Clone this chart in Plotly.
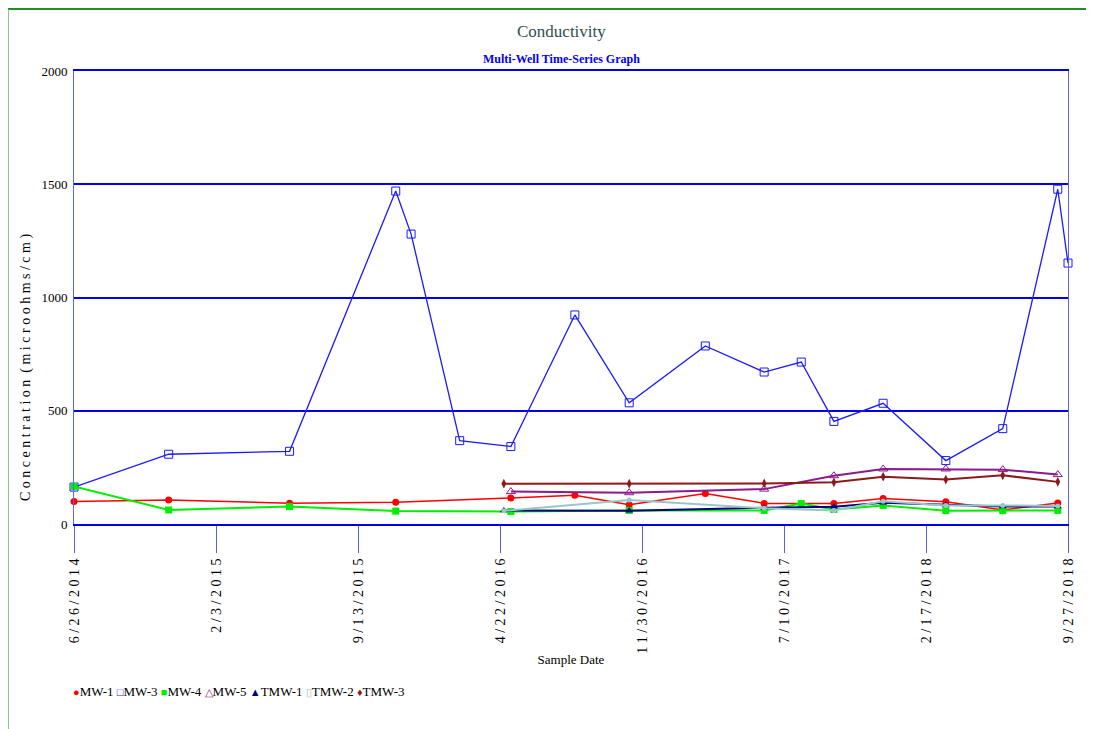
import plotly.graph_objects as go

# ---------------- data ----------------
mw1_dates = ["2014-06-26", "2014-11-21", "2015-05-29", "2015-11-11", "2016-05-09", "2016-08-17",
             "2016-11-10", "2017-03-09", "2017-06-09", "2017-09-26", "2017-12-12", "2018-03-20",
             "2018-06-17", "2018-09-11"]
mw1_vals = [99, 106, 92, 96, 115, 127, 85, 135, 91, 91, 113, 98, 62, 93]

mw3_dates = ["2014-06-26", "2014-11-21", "2015-05-29", "2015-11-11", "2015-12-05", "2016-02-19",
             "2016-05-09", "2016-08-17", "2016-11-10", "2017-03-09", "2017-06-09", "2017-08-06",
             "2017-09-26", "2017-12-12", "2018-03-20", "2018-06-17", "2018-09-11", "2018-09-27"]
mw3_vals = [163, 308, 321, 1470, 1280, 368, 342, 923, 535, 786, 671, 715, 453, 533, 280, 421, 1478, 1152]

mw4_dates = ["2014-06-26", "2014-11-21", "2015-05-29", "2015-11-11", "2016-05-09", "2016-11-10",
             "2017-06-09", "2017-08-06", "2017-09-26", "2017-12-12", "2018-03-20", "2018-06-17",
             "2018-09-11"]
mw4_vals = [166, 62, 77, 57, 55, 60, 60, 90, 64, 82, 59, 59, 60]

mw5_dates = ["2016-05-09", "2016-11-10", "2017-06-09", "2017-09-26", "2017-12-12", "2018-03-20",
             "2018-06-17", "2018-09-11"]
mw5_vals = [143, 138, 154, 213, 243, 243, 240, 218]

tmw_dates = ["2016-04-28", "2016-11-10", "2017-06-09", "2017-09-26", "2017-12-12", "2018-03-20",
             "2018-06-17", "2018-09-11"]
tmw1_vals = [60, 58, 72, 76, 94, 84, 77, 77]
tmw2_vals = [58, 106, 69, 60, 100, 82, 82, 80]
tmw3_vals = [178, 178, 179, 184, 209, 196, 215, 186]

tick_dates = ["2014-06-26", "2015-02-03", "2015-09-13", "2016-04-22", "2016-11-30",
              "2017-07-10", "2018-02-17", "2018-09-27"]
tick_labels = ["6/26/2014", "2/3/2015", "9/13/2015", "4/22/2016", "11/30/2016",
               "7/10/2017", "2/17/2018", "9/27/2018"]
y_ticks = [0, 500, 1000, 1500, 2000]

series_names = ["MW-1", "MW-3", "MW-4", "MW-5", "TMW-1", "TMW-2", "TMW-3"]
series_colors = ["#ff0000", "#1a1aff", "#00ee00", "#8b1a8b", "#000080", "#99c7c7", "#8b1a1a"]
legend_glyphs = ["●", "□", "■", "△", "▲", "▯", "♦"]

# ---------------- figure ----------------
FONT = "Liberation Serif"
fig = go.Figure()

series = [
    (mw1_dates, mw1_vals, dict(symbol="circle", size=7), 1.5),
    (mw3_dates, mw3_vals, dict(symbol="square-open", size=8, line=dict(width=1)), 1.3),
    (mw4_dates, mw4_vals, dict(symbol="square", size=7), 2),
    (mw5_dates, mw5_vals, dict(symbol="triangle-up-open", size=8, line=dict(width=1)), 2),
    (tmw_dates, tmw1_vals, dict(symbol="triangle-up", size=7), 2),
    (tmw_dates, tmw2_vals, dict(symbol="circle", size=5), 2),
    (tmw_dates, tmw3_vals, dict(symbol="diamond-tall", size=7), 2),
]
for (d, v, mk, lw), name, col in zip(series, series_names, series_colors):
    mk = dict(mk, color=col)
    fig.add_trace(go.Scatter(x=d, y=v, name=name, mode="lines+markers",
                             line=dict(color=col, width=lw), marker=mk,
                             cliponaxis=False, showlegend=False))

fig.update_layout(
    width=1094, height=729,
    margin=dict(l=66, r=34, t=63, b=213),
    paper_bgcolor="white", plot_bgcolor="white",
    font=dict(family=FONT, color="black"),
    xaxis=dict(
        type="date", range=[tick_dates[0], tick_dates[-1]],
        tickmode="array", tickvals=tick_dates,
        ticktext=[" ".join(list(t)) for t in tick_labels],
        tickangle=-90, tickfont=dict(size=14, family=FONT),
        ticks="outside", ticklen=27, tickcolor="#5a5aff", tickwidth=1,
        showgrid=False, zeroline=False,
        showline=True, linecolor="#0000e6", linewidth=2, mirror=True,
        title=dict(text="Sample Date", font=dict(size=13, family=FONT), standoff=2),
    ),
    yaxis=dict(
        range=[0, 2000], tickmode="array", tickvals=y_ticks,
        tickfont=dict(size=13, family=FONT),
        showgrid=True, gridcolor="#0000e6", gridwidth=2,
        zeroline=False, ticks="", ticklabelstandoff=3,
        showline=True, linecolor="#6060ff", linewidth=1, mirror=True,
    ),
)

# titles
fig.add_annotation(text="Conductivity", xref="paper", yref="paper", x=0.49, y=1.0 + 40 / 453,
                   showarrow=False, font=dict(size=17, family=FONT, color="#2f4f4f"),
                   xanchor="center", yanchor="middle")
fig.add_annotation(text="<b>Multi-Well Time-Series Graph</b>", xref="paper", yref="paper",
                   x=0.49, y=1.0 + 12 / 453, showarrow=False,
                   font=dict(size=12, family=FONT, color="#0000ff"),
                   xanchor="center", yanchor="middle")
# y-axis title
fig.add_annotation(text=" ".join(list("Concentration")) + "  " + " ".join(list("(microohms/cm)")),
                   xref="paper", yref="paper", x=(25 - 73) / 994, y=(523 - 367) / 453,
                   textangle=-90, showarrow=False, font=dict(size=14, family=FONT),
                   xanchor="center", yanchor="middle")

# legend row
legend_html = " ".join(
    f'<span style="color:{c};font-size:11px">{g}</span>{n}'
    for g, n, c in zip(legend_glyphs, series_names, series_colors)
)
fig.add_annotation(text=legend_html, xref="paper", yref="paper", x=(70 - 73) / 994,
                   y=(523 - 690) / 453, showarrow=False, font=dict(size=13, family=FONT),
                   xanchor="left", yanchor="middle")

# outer green frame (top and left)
fig.add_shape(type="line", xref="paper", yref="paper", x0=(7 - 73) / 994, x1=(1110 - 73) / 994,
              y0=(523 - 8) / 453, y1=(523 - 8) / 453, line=dict(color="#1f8f1f", width=2))
fig.add_shape(type="line", xref="paper", yref="paper", x0=(7 - 73) / 994, x1=(7 - 73) / 994,
              y0=(523 - 8) / 453, y1=(523 - 740) / 453, line=dict(color="#5cb85c", width=1.5))

fig.write_html("out.html")
